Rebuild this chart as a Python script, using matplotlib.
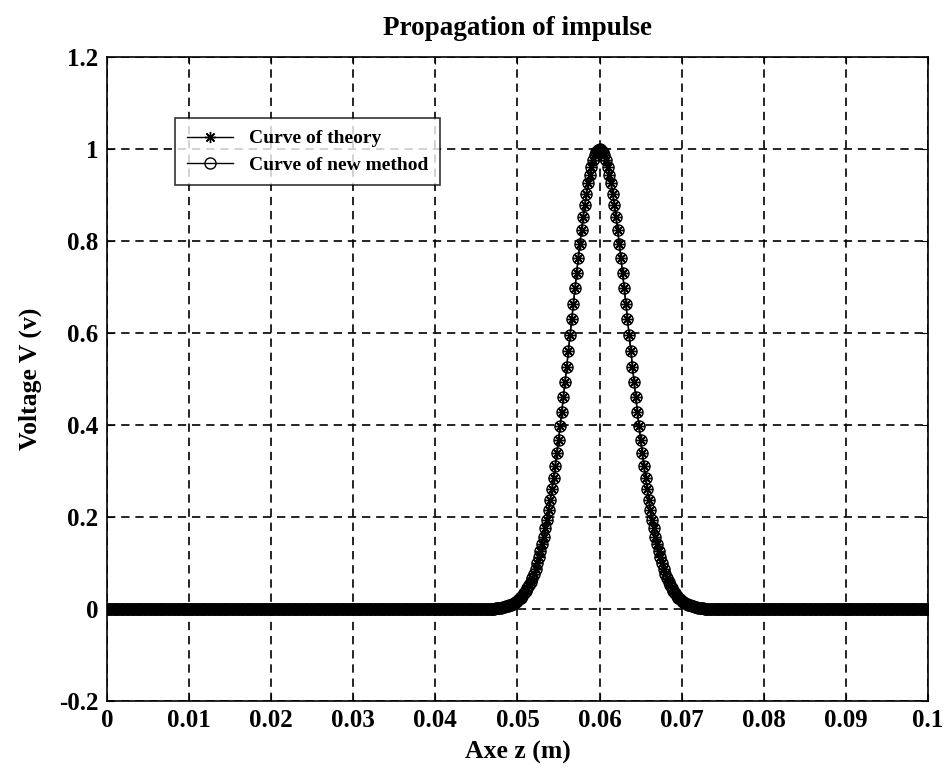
import matplotlib
matplotlib.use('Agg')
import matplotlib.pyplot as plt

plt.rcParams['font.family'] = ['Liberation Serif', 'DejaVu Serif']
plt.rcParams['font.weight'] = 'bold'

# sample positions along z (m), step 0.0002
z = [round(i * 0.0002, 4) for i in range(501)]

# voltage: flat at 0, pulse between 0.047 and 0.073, peak 1 at z = 0.06
v_left_flat = [0.0] * 235
v_pulse = [0.001, 0.001, 0.002, 0.002, 0.003, 0.003, 0.004, 0.005, 0.006, 0.007,
           0.008, 0.009, 0.011, 0.013, 0.016, 0.018, 0.021, 0.025, 0.029, 0.034,
           0.039, 0.045, 0.052, 0.059, 0.068, 0.077, 0.088, 0.099, 0.112, 0.126,
           0.141, 0.157, 0.175, 0.194, 0.215, 0.237, 0.260, 0.285, 0.311, 0.339,
           0.368, 0.398, 0.429, 0.461, 0.494, 0.527, 0.561, 0.595, 0.630, 0.664,
           0.698, 0.731, 0.763, 0.794, 0.824, 0.852, 0.878, 0.903, 0.925, 0.944,
           0.961, 0.975, 0.986, 0.994, 0.998, 1.000, 0.998, 0.994, 0.986, 0.975,
           0.961, 0.944, 0.925, 0.903, 0.878, 0.852, 0.824, 0.794, 0.763, 0.731,
           0.698, 0.664, 0.630, 0.595, 0.561, 0.527, 0.494, 0.461, 0.429, 0.398,
           0.368, 0.339, 0.311, 0.285, 0.260, 0.237, 0.215, 0.194, 0.175, 0.157,
           0.141, 0.126, 0.112, 0.099, 0.088, 0.077, 0.068, 0.059, 0.052, 0.045,
           0.039, 0.034, 0.029, 0.025, 0.021, 0.018, 0.016, 0.013, 0.011, 0.009,
           0.008, 0.007, 0.006, 0.005, 0.004, 0.003, 0.003, 0.002, 0.002, 0.001,
           0.001]
v_right_flat = [0.0] * 135
v_theory = v_left_flat + v_pulse + v_right_flat
v_new = list(v_theory)

x_ticks = [0, 0.01, 0.02, 0.03, 0.04, 0.05, 0.06, 0.07, 0.08, 0.09, 0.1]
x_tick_labels = ['0', '0.01', '0.02', '0.03', '0.04', '0.05', '0.06', '0.07', '0.08', '0.09', '0.1']
y_ticks = [-0.2, 0, 0.2, 0.4, 0.6, 0.8, 1, 1.2]
y_tick_labels = ['-0.2', '0', '0.2', '0.4', '0.6', '0.8', '1', '1.2']

fig = plt.figure(figsize=(9.5, 7.74), dpi=100)
ax = fig.add_axes([0.1126, 0.0943, 0.8642, 0.8321])

asterisk = (8, 2, 0)
ax.plot(z, v_theory, linestyle='-', marker=asterisk, color='black', markersize=8,
        markeredgewidth=1.0, linewidth=1.0, label='Curve of theory')
ax.plot(z, v_new, '-o', color='black', markerfacecolor='none', markersize=8,
        markeredgewidth=1.0, linewidth=1.0, label='Curve of new method')

ax.set_xlim(0, 0.1)
ax.set_ylim(-0.2, 1.2)
ax.set_xticks(x_ticks)
ax.set_xticklabels(x_tick_labels)
ax.set_yticks(y_ticks)
ax.set_yticklabels(y_tick_labels)
ax.tick_params(direction='in', top=True, right=True, labelsize=18, length=5, pad=6)
for lab in ax.get_xticklabels() + ax.get_yticklabels():
    lab.set_fontweight('bold')
ax.grid(True, color='black', linestyle=(0, (5, 3.5)), linewidth=1.2)
for s in ax.spines.values():
    s.set_linewidth(1.2)

ax.set_title('Propagation of impulse', fontsize=19.5, fontweight='bold', pad=16)
ax.set_xlabel('Axe z (m)', fontsize=18.5, fontweight='bold', labelpad=6)
ax.set_ylabel('Voltage V (v)', fontsize=18.5, fontweight='bold', labelpad=12)

leg = ax.legend(loc='upper left', bbox_to_anchor=(0.083, 0.905), fontsize=14,
                frameon=True, fancybox=False, edgecolor='black', borderpad=0.6,
                handlelength=2.4, handletextpad=0.8, labelspacing=0.45, borderaxespad=0)
leg.get_frame().set_linewidth(1.2)
for t in leg.get_texts():
    t.set_fontweight('bold')

fig.savefig('out.png', dpi=100)
